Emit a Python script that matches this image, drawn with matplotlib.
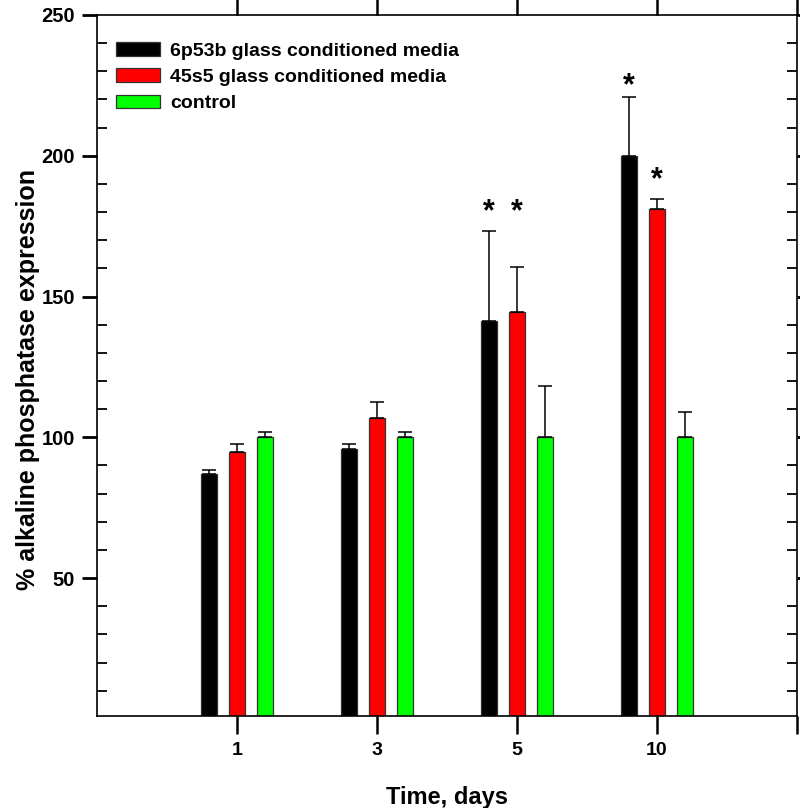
import matplotlib
matplotlib.use("Agg")
import matplotlib.pyplot as plt
import numpy as np
from matplotlib.ticker import FixedLocator

plt.rcParams['font.family'] = ['Liberation Sans', 'DejaVu Sans']
plt.rcParams['font.weight'] = 'bold'

days = ["1", "3", "5", "10"]
series_names = ["6p53b glass conditioned media", "45s5 glass conditioned media", "control"]
glass_6p53b = [87, 95.7, 141.3, 200]
glass_6p53b_err = [1.4, 2.0, 32.0, 21.0]
glass_45s5 = [94.7, 106.9, 144.6, 181]
glass_45s5_err = [3.0, 5.6, 16.0, 3.8]
control = [100, 100, 100, 100]
control_err = [2.0, 2.0, 18.2, 9.0]
colors = ["#000000", "#ff0000", "#00ff00"]

# significance stars: (group index, series index, star height)
star_groups = [2, 2, 3, 3]
star_series = [0, 1, 0, 1]
star_y = [183.4, 183.4, 228.0, 194.6]

fig = plt.figure(figsize=(8.0, 8.08), dpi=100)
ax = fig.add_axes([97/800, 1-716/808, 700/800, 701/808])

x = np.arange(1, len(days)+1)
width = 0.12
offsets = [-0.2, 0.0, 0.2]
values = [glass_6p53b, glass_45s5, control]
errs = [glass_6p53b_err, glass_45s5_err, control_err]
handles = []
for i in range(3):
    b = ax.bar(x + offsets[i], values[i], width, color=colors[i], edgecolor="#333333",
               linewidth=0.9, label=series_names[i], zorder=2)
    handles.append(b)
    ax.errorbar(x + offsets[i], values[i], yerr=[np.zeros(len(days)), errs[i]],
                fmt='none', ecolor='black', elinewidth=1.1, capsize=5.3, capthick=1.1, zorder=3)

star_fs = 22
for g, s, yv in zip(star_groups, star_series, star_y):
    ax.annotate("*", xy=(x[g] + offsets[s], yv), xytext=(0, -0.57*star_fs), textcoords='offset points',
                ha='center', va='baseline', fontsize=star_fs, fontweight='bold')

ax.set_xlim(0, 5)
ax.set_ylim(1, 250)

ax.xaxis.set_major_locator(FixedLocator([1, 2, 3, 4, 5]))
ax.set_xticklabels(days + [""])
ax.yaxis.set_major_locator(FixedLocator([50, 100, 150, 200, 250]))
ax.yaxis.set_minor_locator(FixedLocator([v for v in range(10, 250, 10) if v % 50 != 0]))

ax.tick_params(axis='x', which='major', direction='out', length=13, width=1.8,
               top=True, bottom=True, labelsize=14, pad=6)
ax.tick_params(axis='y', which='major', direction='out', length=11, width=2.0,
               left=True, right=True, labelsize=14.5, pad=5)
ax.tick_params(axis='y', which='minor', direction='in', length=7, width=1.3,
               left=True, right=True)
for lab in ax.get_xticklabels() + ax.get_yticklabels():
    lab.set_fontweight('bold')

for sp in ax.spines.values():
    sp.set_linewidth(1.2)

ax.set_xlabel("Time, days", fontsize=17, fontweight='bold', labelpad=19)
ax.set_ylabel("% alkaline phosphatase expression", fontsize=18, fontweight='bold')
ax.yaxis.set_label_coords(-0.081, 0.48)

leg = ax.legend(handles=handles, loc='upper left', bbox_to_anchor=(0.027, 0.961),
                frameon=False, fontsize=14, handlelength=2.27, handleheight=0.72,
                handletextpad=0.5, labelspacing=0.43, borderpad=0, borderaxespad=0)
for t in leg.get_texts():
    t.set_fontweight('bold')

fig.savefig("out.png", dpi=100)
